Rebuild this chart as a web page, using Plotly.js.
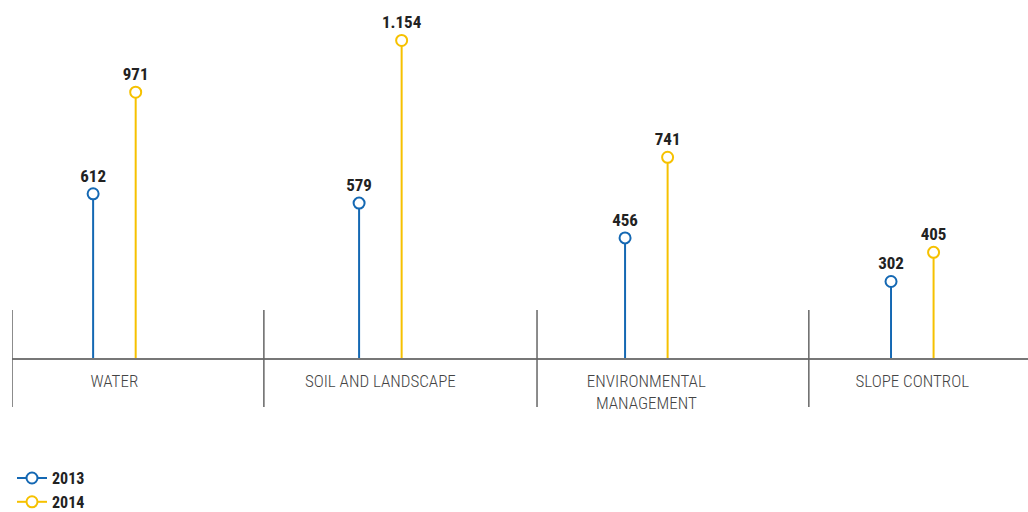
<!DOCTYPE html>
<html>
<head>
<meta charset="utf-8">
<script src="https://cdn.plot.ly/plotly-3.0.1.min.js"></script>
<style>html,body{margin:0;padding:0;background:#fff;}#chart{width:1028px;height:512px;}</style>
</head>
<body>
<div id="chart"></div>
<script>
const categories = ['WATER', 'SOIL AND LANDSCAPE', 'ENVIRONMENTAL<br>MANAGEMENT', 'SLOPE CONTROL'];
const seriesNames = ['2013', '2014'];
const values2013 = [612, 579, 456, 302];
const values2014 = [971, 1154, 741, 405];

const BLUE = '#1468b3';
const YELLOW = '#f6c100';
const NARROW = '"Roboto Condensed", "DejaVu Sans Condensed", sans-serif';
// divider offsets (style) relative to each category centre
const dividerOffsets = [-0.385, -0.438, -0.411, -0.389];

function stemTrace(name, values, color) {
  return {
    type: 'scatter',
    name: name,
    x: categories,
    y: values,
    mode: 'markers+text',
    showlegend: false,
    cliponaxis: true,
    marker: {symbol: 'circle', size: 11, color: '#ffffff', line: {color: color, width: 2}},
    error_y: {type: 'data', symmetric: false, array: values.map(() => 0), arrayminus: values,
              color: color, thickness: 2, width: 0},
    texttemplate: '%{y:,}',
    textposition: 'top center',
    textfont: {family: NARROW, size: 17, color: '#222222', weight: 'bold'},
    hoverinfo: 'skip'
  };
}
function legendTrace(name, color) {
  return {
    type: 'scatter', name: name, x: [null], y: [null], xaxis: 'x2', yaxis: 'y2',
    mode: 'lines+markers',
    line: {color: color, width: 2},
    marker: {symbol: 'circle', size: 11, color: '#ffffff', line: {color: color, width: 2}},
    hoverinfo: 'skip'
  };
}

const data = [
  stemTrace(seriesNames[0], values2013, BLUE),
  stemTrace(seriesNames[1], values2014, YELLOW),
  legendTrace(seriesNames[0], BLUE),
  legendTrace(seriesNames[1], YELLOW)
];

const dividerShapes = categories.map((c, i) => ({
  type: 'line', xref: 'x', yref: 'paper',
  x0: i + dividerOffsets[i], x1: i + dividerOffsets[i], y0: -0.137, y1: 0.134,
  line: {color: '#666666', width: 1.5}
}));

const layout = {
  width: 1028, height: 512,
  margin: {l: 12, r: 0, t: 0, b: 154, pad: 0, autoexpand: false},
  paper_bgcolor: '#ffffff', plot_bgcolor: '#ffffff',
  separators: ',.',
  scattermode: 'group', scattergap: 0.68,
  xaxis: {type: 'category', range: [-0.385, 3.435], showline: true, linecolor: '#777777', linewidth: 1.5,
          ticks: '', showgrid: false, zeroline: false, fixedrange: true, automargin: false,
          ticklabelstandoff: 7,
          tickfont: {family: NARROW, size: 17, color: '#444444', weight: 300}},
  yaxis: {range: [31.5, 1297], visible: false, showgrid: false, zeroline: false, fixedrange: true},
  xaxis2: {visible: false, overlaying: 'x', range: [0, 1]},
  yaxis2: {visible: false, overlaying: 'y', range: [0, 1]},
  shapes: dividerShapes,
  showlegend: true,
  legend: {x: 0, xanchor: 'left', y: -0.288, yanchor: 'top', orientation: 'v',
           font: {family: NARROW, size: 16, color: '#222222', weight: 'bold'}, tracegroupgap: 0,
           bgcolor: 'rgba(0,0,0,0)'}
};

Plotly.newPlot('chart', data, layout, {displayModeBar: false, staticPlot: true});
</script>
</body>
</html>
